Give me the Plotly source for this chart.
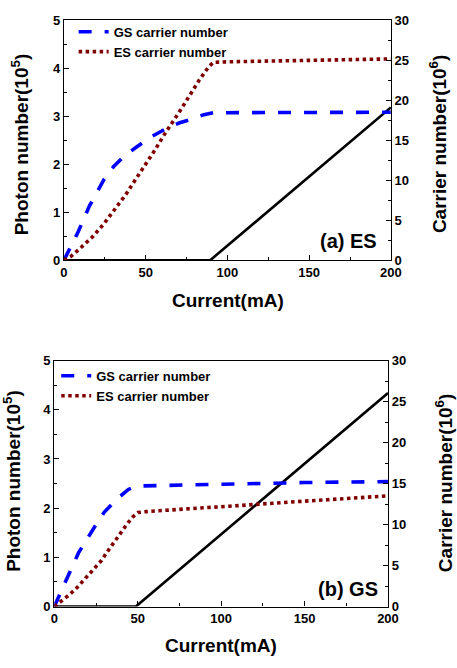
import plotly.graph_objects as go

W, H = 457, 668

# ---------------- Data ----------------
# (a) ES lasing
a_gs_x = [0, 2, 5, 8.7, 15.6, 24.5, 30.4, 37.3, 44.2, 53, 62, 70.8, 77.7, 85.6, 91.5, 100, 150, 200]
a_gs_y = [0, 0.84, 2.04, 3.54, 6.78, 10.08, 11.7, 13.08, 14.1, 15.36, 16.38, 17.16, 17.58, 18.18, 18.42, 18.42, 18.45, 18.48]
a_es_x = [0, 4.3, 9, 17.6, 24.5, 31.4, 37.9, 43.8, 49.7, 55.6, 60.9, 66.3, 71.4, 77.3, 82.6, 88.6, 91.5, 100, 150, 200]
a_es_y = [0, 0.48, 1.32, 2.94, 4.56, 6.42, 8.22, 10.08, 11.88, 13.74, 15.54, 17.16, 18.78, 20.7, 22.44, 24.18, 24.72, 24.78, 24.96, 25.14]
a_ph_x = [0, 89.5, 200]
a_ph_y = [0, 0, 3.18]

# (b) GS lasing
b_gs_x = [0, 6.8, 14.5, 24.2, 30, 37.7, 44.4, 49.3, 60.9, 100, 150, 200]
b_gs_y = [0, 3.18, 6.54, 9.72, 11.52, 13.14, 14.28, 14.7, 14.76, 14.88, 15.12, 15.24]
b_es_x = [0, 4.8, 8.7, 13.5, 17.4, 21.3, 25.1, 28.4, 31.5, 34.8, 37.7, 41, 43.9, 47.3, 50.2, 55.1, 66.7, 86, 105.3, 124.6, 144, 163.3, 182.6, 200]
b_es_y = [0, 0.72, 1.38, 2.28, 3.18, 3.96, 4.86, 5.64, 6.6, 7.56, 8.4, 9.36, 10.14, 10.98, 11.46, 11.58, 11.7, 12.0, 12.24, 12.54, 12.78, 13.02, 13.32, 13.5]
b_ph_x = [0, 48.9, 200]
b_ph_y = [0, 0, 4.34]

x_ticks = [0, 50, 100, 150, 200]
x_minor = [25, 75, 125, 175]
left_ticks = [0, 1, 2, 3, 4, 5]
left_minor = [0.5, 1.5, 2.5, 3.5, 4.5]
right_ticks = [0, 5, 10, 15, 20, 25, 30]
right_minor = [2.5, 7.5, 12.5, 17.5, 22.5, 27.5]

BLUE = "#0000ff"
RED = "#800000"
FONT = "Liberation Sans, Arial, sans-serif"

fig = go.Figure()

# top panel traces
fig.add_trace(go.Scatter(x=a_ph_x, y=a_ph_y, xaxis="x", yaxis="y", mode="lines",
                         line=dict(color="black", width=2.6), showlegend=False))
fig.add_trace(go.Scatter(x=a_gs_x, y=a_gs_y, xaxis="x", yaxis="y2", mode="lines",
                         name="GS carrier number", legend="legend",
                         line=dict(color=BLUE, width=3.6, dash="13px,13px")))
fig.add_trace(go.Scatter(x=a_es_x, y=a_es_y, xaxis="x", yaxis="y2", mode="lines",
                         name="ES carrier number", legend="legend",
                         line=dict(color=RED, width=3.6, dash="3.5px,3.5px")))

# bottom panel traces
fig.add_trace(go.Scatter(x=b_ph_x, y=b_ph_y, xaxis="x2", yaxis="y3", mode="lines",
                         line=dict(color="black", width=2.6), showlegend=False))
fig.add_trace(go.Scatter(x=b_gs_x, y=b_gs_y, xaxis="x2", yaxis="y4", mode="lines",
                         name="GS carrier number", legend="legend2",
                         line=dict(color=BLUE, width=3.6, dash="13px,13px")))
fig.add_trace(go.Scatter(x=b_es_x, y=b_es_y, xaxis="x2", yaxis="y4", mode="lines",
                         name="ES carrier number", legend="legend2",
                         line=dict(color=RED, width=3.6, dash="3.5px,3.5px")))

tickfont = dict(family=FONT, size=13, color="black", weight="bold")
common = dict(showline=True, linecolor="black", linewidth=1.2, ticks="inside",
              ticklen=5, tickwidth=1, tickcolor="black", showgrid=False,
              zeroline=False, tickfont=tickfont)


def minor(vals):
    return dict(ticks="inside", ticklen=3, tickwidth=1, tickcolor="black",
                tickmode="array", tickvals=vals, showgrid=False)


def px_x(p):
    return p / W


def px_y(p):
    return 1 - p / H


top_dom = [px_y(259), px_y(13.3)]
bot_dom = [px_y(613.3), px_y(361.7)]

fig.update_layout(
    width=W, height=H, margin=dict(l=0, r=0, t=0, b=0),
    paper_bgcolor="white", plot_bgcolor="white",
    xaxis=dict(domain=[px_x(62), px_x(400)], range=[0, 200], tickvals=x_ticks,
               minor=minor(x_minor), mirror=True, anchor="y", **common),
    yaxis=dict(domain=top_dom, range=[0, 5], tickvals=left_ticks,
               minor=minor(left_minor), anchor="x", **common),
    yaxis2=dict(overlaying="y", side="right", range=[0, 30], tickvals=right_ticks,
                minor=minor(right_minor), anchor="x", **common),
    xaxis2=dict(domain=[px_x(52), px_x(397)], range=[0, 200], tickvals=x_ticks,
                minor=minor(x_minor), mirror=True, anchor="y3", **common),
    yaxis3=dict(domain=bot_dom, range=[0, 5], tickvals=left_ticks,
                minor=minor(left_minor), anchor="x2", **common),
    yaxis4=dict(overlaying="y3", side="right", range=[0, 30], tickvals=right_ticks,
                minor=minor(right_minor), anchor="x2", **common),
    legend=dict(x=px_x(72), y=px_y(10), xanchor="left", yanchor="top",
                bgcolor="rgba(0,0,0,0)", tracegroupgap=0,
                font=dict(family=FONT, size=13, color="black", weight="bold")),
    legend2=dict(x=px_x(54), y=px_y(362), xanchor="left", yanchor="top",
                 bgcolor="rgba(0,0,0,0)", tracegroupgap=0,
                 font=dict(family=FONT, size=13, color="black", weight="bold")),
)

title_font = dict(family=FONT, size=19, color="black", weight="bold")
ann = []
# x titles
ann.append(dict(text="Current(mA)", x=px_x(231.5), y=px_y(300), xref="paper", yref="paper",
                showarrow=False, font=title_font, xanchor="center", yanchor="middle"))
ann.append(dict(text="Current(mA)", x=px_x(224), y=px_y(653), xref="paper", yref="paper",
                showarrow=False, font=title_font, xanchor="center", yanchor="middle"))
# left titles
ann.append(dict(text="Photon number(10<sup>5</sup>)", x=px_x(16), y=px_y(140), xref="paper",
                yref="paper", showarrow=False, font=title_font, textangle=-90,
                xanchor="center", yanchor="middle"))
ann.append(dict(text="Photon number(10<sup>5</sup>)", x=px_x(8), y=px_y(485), xref="paper",
                yref="paper", showarrow=False, font=title_font, textangle=-90,
                xanchor="center", yanchor="middle"))
# right titles
ann.append(dict(text="Carrier number(10<sup>6</sup>)", x=px_x(449), y=px_y(140), xref="paper",
                yref="paper", showarrow=False, font=title_font, textangle=-90,
                xanchor="center", yanchor="middle"))
ann.append(dict(text="Carrier number(10<sup>6</sup>)", x=px_x(455), y=px_y(487), xref="paper",
                yref="paper", showarrow=False, font=title_font, textangle=-90,
                xanchor="center", yanchor="middle"))
# panel labels
lab_font = dict(family=FONT, size=20, color="black", weight="bold")
ann.append(dict(text="(a) ES", x=px_x(388), y=px_y(239), xref="paper", yref="paper",
                showarrow=False, font=lab_font, xanchor="right", yanchor="middle"))
ann.append(dict(text="(b) GS", x=px_x(389), y=px_y(595), xref="paper", yref="paper",
                showarrow=False, font=lab_font, xanchor="right", yanchor="middle"))
fig.update_layout(annotations=ann)

fig.write_html("out.html")
